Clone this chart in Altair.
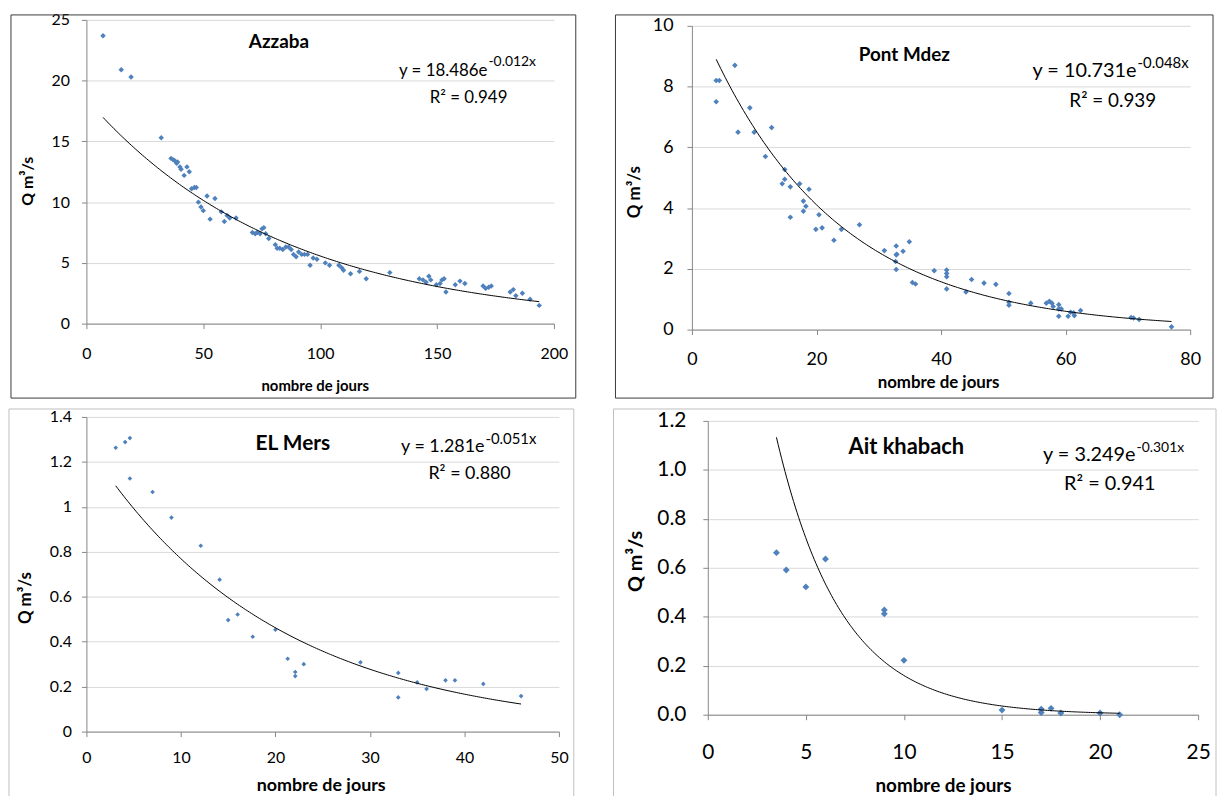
import altair as alt
import pandas as pd

FONT = "Lato"
BLUE = "#4F81BD"

# ---------------- data ----------------
azz_x = [7.1, 14.9, 19.1, 32, 36.2, 37, 37.8, 38.6, 39, 40, 40.5, 41.8, 43, 44, 45, 46.2, 47, 47.9, 49, 50,
         51.6, 52.9, 55, 57.7, 59, 60.2, 61.3, 64, 71, 72.2, 73, 74.3, 75.1, 75.9, 76.7, 78, 80.8, 81.6, 82.7,
         84, 85.3, 86.5, 87.6, 88.6, 89.7, 90.8, 92.1, 93.3, 94.6, 95.7, 97, 98.6, 102.2, 104, 108, 109.2, 110,
         113, 116.8, 119.7, 129.8, 142.4, 144, 145.3, 146.5, 147.3, 149.7, 151.3, 152.1, 153, 153.8, 157.8,
         159.8, 161.9, 169.7, 170.8, 172.1, 173.2, 181.3, 182.6, 183.7, 186.5, 189.8, 193.7]
azz_y = [23.7, 20.9, 20.3, 15.3, 13.6, 13.5, 13.4, 13.2, 13.3, 12.9, 12.7, 12.2, 12.9, 12.5, 11.1, 11.2, 11.2,
         10.0, 9.6, 9.3, 10.5, 8.6, 10.3, 9.2, 8.4, 8.9, 8.7, 8.7, 7.5, 7.4, 7.5, 7.4, 7.8, 7.9, 7.4, 7.0, 6.5,
         6.2, 6.2, 6.1, 6.3, 6.3, 6.1, 5.7, 5.5, 5.9, 5.7, 5.7, 5.7, 4.8, 5.4, 5.3, 5.0, 4.8, 4.8, 4.6, 4.4, 4.1,
         4.3, 3.7, 4.2, 3.7, 3.6, 3.4, 3.9, 3.6, 3.2, 3.3, 3.6, 3.7, 2.6, 3.2, 3.5, 3.3, 3.1, 2.9, 3.0, 3.1, 2.6,
         2.8, 2.3, 2.5, 2.0, 1.5]

pm_x = [3.9, 4.4, 3.9, 6.9, 7.4, 9.3, 10, 11.8, 12.8, 14.5, 14.9, 14.9, 15.8, 15.8, 17.3, 17.9, 17.9, 18.3,
        18.8, 19.9, 20.4, 20.9, 22.8, 24, 26.9, 30.9, 32.8, 32.8, 32.9, 32.7, 32.8, 33.9, 34.9, 35.4, 35.9,
        38.9, 40.9, 40.9, 40.9, 40.9, 44, 44.9, 46.9, 48.8, 50.9, 50.9, 50.9, 54.4, 56.9, 57.4, 57.8, 58,
        58.9, 58.9, 58.9, 59.3, 60.4, 60.8, 61.3, 61.4, 62.4, 70.5, 70.9, 71.8, 77]
pm_y = [8.2, 8.2, 7.5, 8.7, 6.5, 7.3, 6.5, 5.7, 6.65, 4.8, 5.27, 4.95, 4.7, 3.7, 4.8, 4.23, 3.9, 4.06, 4.62,
        3.3, 3.78, 3.35, 2.94, 3.3, 3.45, 2.6, 2.75, 2.46, 2.48, 2.24, 1.98, 2.58, 2.89, 1.55, 1.5, 1.94, 1.96,
        1.85, 1.74, 1.34, 1.24, 1.65, 1.53, 1.49, 1.19, 0.9, 0.8, 0.87, 0.87, 0.93, 0.87, 0.76, 0.82, 0.68,
        0.44, 0.68, 0.44, 0.57, 0.55, 0.46, 0.63, 0.4, 0.38, 0.33, 0.09]

em_x = [3.1, 4.1, 4.6, 4.6, 7.0, 9.0, 12.1, 14.1, 15.0, 16.0, 17.6, 20.0, 21.3, 22.1, 22.1, 23.0, 29.0, 33.0,
        33.0, 35.0, 36.0, 38.0, 39.0, 42.0, 46.0]
em_y = [1.263, 1.288, 1.306, 1.126, 1.066, 0.952, 0.827, 0.676, 0.496, 0.521, 0.422, 0.453, 0.324, 0.265,
        0.247, 0.300, 0.308, 0.261, 0.152, 0.219, 0.190, 0.228, 0.228, 0.212, 0.158]

ak_x = [3.5, 4.0, 5.0, 6.0, 9.0, 9.0, 10.0, 15.0, 17.0, 17.0, 17.5, 18.0, 20.0, 21.0]
ak_y = [0.662, 0.591, 0.522, 0.636, 0.428, 0.412, 0.222, 0.019, 0.023, 0.009, 0.026, 0.007, 0.007, 0.0]

# trend line coefficients printed on the chart (y = a e^(b x)) and x extent of the fitted curve
names = ["Azzaba", "Pont Mdez", "EL Mers", "Ait khabach"]
coef_a = [18.486, 10.731, 1.281, 3.249]
coef_b = [-0.012, -0.048, -0.051, -0.301]
r2 = ["0.949", "0.939", "0.880", "0.941"]
curve_x0 = [7.1, 3.9, 3.1, 3.5]
curve_x1 = [193.7, 77, 46, 21]

x_max = [200, 80, 50, 25]
x_step = [50, 20, 10, 5]
y_max = [25, 10, 1.4, 1.2]
y_step = [5, 2, 0.2, 0.2]
y_fmt = ["d", "d", "~g", ".1f"]


def one(v):
    return alt.Data(values=[{"k": v}])


def panel(i, xs_, ys_, w, h, top_off, box, border, tick_fs, tlab_pad_x, tlab_pad_y, axt_fs, ytitle_fs,
          xtitle_pos, ytitle_pos, name_pos, name_fs, eq_pos, eq_fs, sup_dy, sup_fs, r2_pos, r2_fs, pt_size):
    # all y positions below are given relative to the panel's plot top; top_off shifts the plot down
    H = h + top_off
    df = pd.DataFrame({"x": xs_, "y": ys_})
    xsc = alt.Scale(domain=[0, x_max[i]], nice=False, zero=True)
    ysc = alt.Scale(domain=[0, y_max[i]], nice=False, zero=True, range=[H, top_off])
    nx = int(round(x_max[i] / x_step[i]))
    ny = int(round(y_max[i] / y_step[i]))
    xvals = [x_step[i] * k for k in range(nx + 1)]
    yvals = [round(y_step[i] * k, 4) for k in range(ny + 1)]
    common = dict(domainColor="#868686", tickColor="#868686", tickSize=5, labelFont=FONT,
                  labelFontSize=tick_fs, labelColor="#000000", titleFont=FONT, titleColor="#000000",
                  titleFontWeight="bold")
    xaxis = alt.Axis(values=xvals, grid=False, title="nombre de jours", labelPadding=tlab_pad_x,
                     titleFontSize=axt_fs, titleX=xtitle_pos[0], titleY=xtitle_pos[1],
                     titleBaseline="middle", titleAlign="center", labelFlush=False, **common)
    yaxis = alt.Axis(values=yvals, grid=True, gridColor="#D9D9D9", title="Q m³/s", format=y_fmt[i],
                     labelPadding=tlab_pad_y, titleFontSize=ytitle_fs, titleX=ytitle_pos[0],
                     titleY=ytitle_pos[1] + top_off, titleBaseline="middle", titleAlign="center",
                     titleAngle=270, labelFlush=False, **common)

    X = alt.X("x:Q", scale=xsc, axis=xaxis)
    Y = alt.Y("y:Q", scale=ysc, axis=yaxis)

    frame = alt.Chart(one(0)).mark_rect(fill="white", fillOpacity=0, stroke=border, strokeWidth=1).encode(
        x=alt.value(box[0]), x2=alt.value(box[1]), y=alt.value(box[2]), y2=alt.value(box[3]))

    pts = alt.Chart(df).mark_point(shape="diamond", filled=True, color=BLUE, size=pt_size,
                                   opacity=1).encode(x=X, y=Y)

    step = (curve_x1[i] - curve_x0[i]) / 200.0
    curve = alt.Chart(alt.sequence(curve_x0[i], curve_x1[i] + step / 2, step, as_="x")).transform_calculate(
        y=f"{coef_a[i]} * exp({coef_b[i]} * datum.x)"
    ).mark_line(color="#000000", strokeWidth=1).encode(x=X, y=Y)

    ttl = alt.Chart(one(1)).mark_text(text=names[i], font=FONT, fontSize=name_fs, fontWeight="bold",
                                      align="center", baseline="middle", color="#000000").encode(
        x=alt.value(name_pos[0]), y=alt.value(name_pos[1] + top_off))
    eq = alt.Chart(one(2)).mark_text(text=f"y = {coef_a[i]:.3f}e", font=FONT, fontSize=eq_fs,
                                     align="right", baseline="middle", color="#000000").encode(
        x=alt.value(eq_pos[0]), y=alt.value(eq_pos[1] + top_off))
    sup = alt.Chart(one(3)).mark_text(text=f"{coef_b[i]:.3f}x", font=FONT, fontSize=sup_fs,
                                      align="left", baseline="middle", color="#000000").encode(
        x=alt.value(eq_pos[0] + 1), y=alt.value(eq_pos[1] - sup_dy + top_off))
    rr = alt.Chart(one(4)).mark_text(text=f"R² = {r2[i]}", font=FONT, fontSize=r2_fs,
                                     align="center", baseline="middle", color="#000000").encode(
        x=alt.value(r2_pos[0]), y=alt.value(r2_pos[1] + top_off))

    return alt.layer(frame, pts, curve, ttl, eq, sup, rr).properties(width=w, height=H)


# row 1: plot tops at y=15 (Azzaba) and y=21 (Pont Mdez) -> common origin 15, Pont Mdez offset 6
p1 = panel(0, azz_x, azz_y, 471, 306, 0, [-76, 493, -5, 381], "#3a3a3a", 16, 17, 12, 15, 16,
           (230, 62), (-59, 162), (194, 22), 19, (404, 52), 17, 10, 14, (385, 79), 17, 30)
p2 = panel(1, pm_x, pm_y, 502, 306, 6, [-77, 525, -5, 381], "#3a3a3a", 18, 16, 14, 17, 17,
           (248, 53), (-58, 167), (214, 29), 19, (448, 46), 20, 9, 15, (424, 76), 19, 32)
# row 2: plot tops at y=415 (EL Mers) and y=419 (Ait khabach)
p3 = panel(2, em_x, em_y, 476, 317, 0, [-78, 491, -8, 390], "#BFBFBF", 16, 13, 10, 18, 17,
           (236, 54), (-61, 182), (208, 27), 21, (401, 30), 18, 8, 15, (386, 58), 18, 22)
p4 = panel(3, ak_x, ak_y, 494, 296, 4, [-95, 512, -8, 386], "#BFBFBF", 21, 22, 17, 19, 20,
           (237, 71), (-73, 141), (200, 26), 22, (431, 34), 20, 7, 14, (405, 64), 20, 48)

chart = alt.vconcat(
    alt.hconcat(p1, p2, spacing=38),
    alt.hconcat(p3, p4, spacing=38),
    spacing=9,
).properties(padding={"left": 0, "top": 0, "right": 0, "bottom": 0},
             background="white").configure(padding=0).configure_view(stroke="transparent")

chart.save("out.html", embed_options={"renderer": "svg", "actions": False})
